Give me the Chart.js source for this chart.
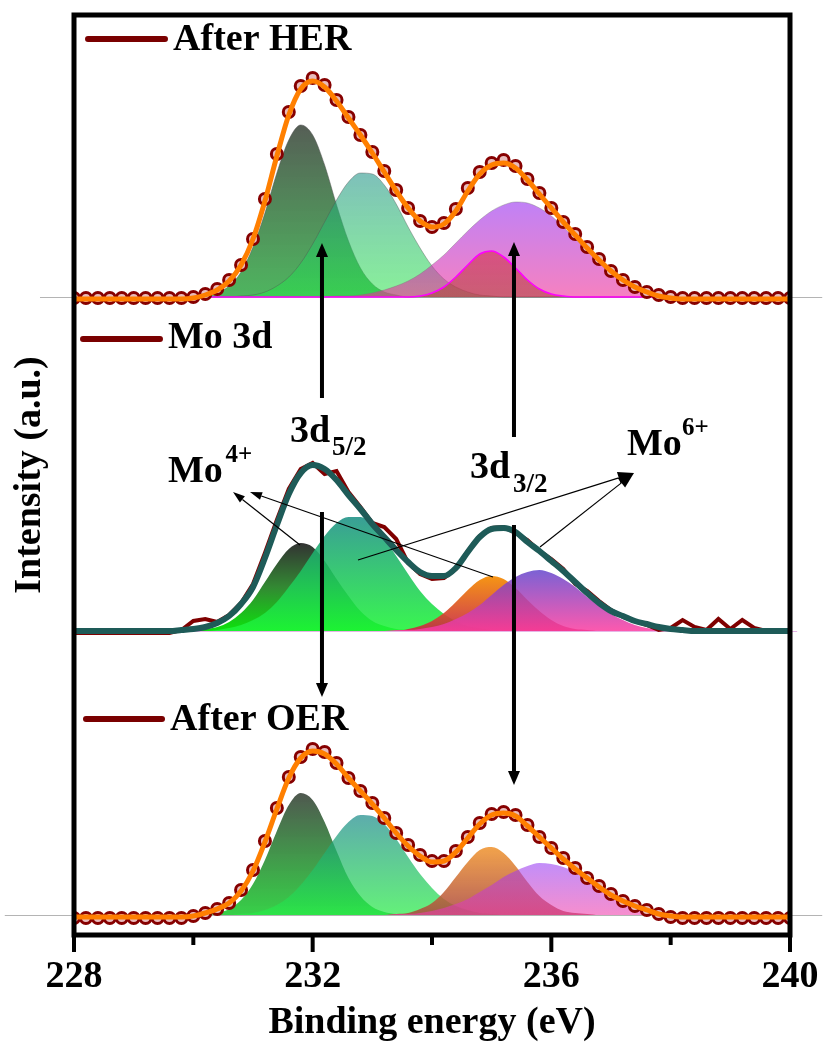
<!DOCTYPE html>
<html><head><meta charset="utf-8">
<script src="https://cdn.jsdelivr.net/npm/chart.js@4.4.1/dist/chart.umd.min.js"></script>
<style>html,body{margin:0;padding:0;background:#fff}canvas{display:block}</style>
</head><body>
<canvas id="c" width="824" height="1047"></canvas>
<script>
// ---------- data (binding energy grid, eV) ----------
const energy = [228,228.2,228.4,228.6,228.8,229,229.2,229.4,229.6,229.8,
230,230.2,230.4,230.6,230.8,231,231.2,231.4,231.6,231.8,
232,232.2,232.4,232.6,232.8,233,233.2,233.4,233.6,233.8,
234,234.2,234.4,234.6,234.8,235,235.2,235.4,235.6,235.8,
236,236.2,236.4,236.6,236.8,237,237.2,237.4,237.6,237.8,
238,238.2,238.4,238.6,238.8,239,239.2,239.4,239.6,239.8,240];
const xTicks = [228, 232, 236, 240];
const xMinorTicks = [230, 234, 238];

// After HER
const herData = [-1,-1,-1,-1,-1, -1,-1,-1,-1,-1,
0,3,8,17,32, 58,98,143,185,211,
219,212,197,180,162, 145,126,107,89,76,
70,74,88,109,125, 134,137,131,118,104,
89,75,63,50,38, 26,17,10,5,2,
0,-1,-1,-1,-1, -1,-1,-1,-1,-1, -1];
const herFit = [-2,-2,-2,-2,-2, -2,-2,-2,-2,-2,
-1,2,7,16,32, 58,96,141,182,208,
216,210,196,179,162, 144,125,106,89,76,
70,73,86,106,123, 132,134,129,117,103,
89,75,62,49,37, 26,17,10,5,1,
-1,-2,-2,-2,-2, -2,-2,-2,-2,-2, -2];
const herMo4a = [0,0,0,0,0, 0,0,0,0,0,
0,1,4,11,25, 50,84,124,157,172,
162,132,92,56,29, 13,5,2,0,0,
0,0,0,0,0, 0,0,0,0,0,
0,0,0,0,0, 0,0,0,0,0,
0,0,0,0,0, 0,0,0,0,0, 0];
const herMo4b = [0,0,0,0,0, 0,0,0,0,0,
0,0,0,0,1, 2,5,11,20,34,
53,75,97,115,124, 123,112,93,70,49,
31,18,10,5,2, 1,0,0,0,0,
0,0,0,0,0, 0,0,0,0,0,
0,0,0,0,0, 0,0,0,0,0, 0];
const herMo6a = [0,0,0,0,0, 0,0,0,0,0,
0,0,0,0,0, 0,0,0,0,0,
0,0,1,1,2, 4,7,11,16,23,
32,42,54,66,77, 86,92,95,94,89,
81,70,58,47,36, 26,19,11,6,3,
1,0,0,0,0, 0,0,0,0,0, 0];
const herMo6b = [0,0,0,0,0, 0,0,0,0,0,
0,0,0,0,0, 0,0,0,0,0,
0,0,0,0,0, 0,0,0,0,1,
4,10,20,32,43, 46,40,29,17,8,
3,1,0,0,0, 0,0,0,0,0,
0,0,0,0,0, 0,0,0,0,0, 0];

// Mo 3d (pristine)
const moData = [-2,-2,-2,-2,-2, -2,-2,-2,-2,1,
10,12,9,16,28, 47,78,111,142,162,
168,157,160,139,124, 108,104,92,68,57,
52,53,62,80,95, 103,104,98,91,80,
72,62,47,40,30, 21,14,10,6,1,
3,11,4,1,12, 2,11,3,0,0, 0];
const moFit = [0,0,0,0,0, 0,0,0,0,1,
2,4,8,15,27, 44,73,106,137,158,
166,162,151,136,122, 107,94,81,69,59,
55,55,63,79,94, 102,103,99,89,80,
70,60,49,38,28, 20,15,10,7,4,
2,1,0,0,0, 0,0,0,0,0, 0];
const moMo4a = [0,0,0,0,0, 0,0,0,0,0,
0,2,4,9,18, 31,49,67,82,88,
84,70,52,35,20, 10,5,2,1,0,
0,0,0,0,0, 0,0,0,0,0,
0,0,0,0,0, 0,0,0,0,0,
0,0,0,0,0, 0,0,0,0,0, 0];
const moMo4b = [0,0,0,0,0, 0,0,0,0,0,
0,0,1,3,6, 11,18,29,44,60,
78,95,108,114,114, 106,92,75,57,40,
27,17,10,5,3, 1,0,0,0,0,
0,0,0,0,0, 0,0,0,0,0,
0,0,0,0,0, 0,0,0,0,0, 0];
const moMo6a = [0,0,0,0,0, 0,0,0,0,0,
0,0,0,0,0, 0,0,0,0,0,
0,0,0,0,0, 0,0,0,2,5,
10,18,29,41,51, 55,52,43,31,20,
11,5,2,1,0, 0,0,0,0,0,
0,0,0,0,0, 0,0,0,0,0, 0];
const moMo6b = [0,0,0,0,0, 0,0,0,0,0,
0,0,0,0,0, 0,0,0,0,0,
0,0,0,0,0, 0,0,1,1,2,
4,7,12,18,26, 36,46,54,59,61,
58,52,44,34,25, 17,11,6,3,2,
1,0,0,0,0, 0,0,0,0,0, 0];

// After OER
const oerData = [-3,-3,-3,-3,-3, -3,-3,-3,-3,-3,
-1,2,6,12,25, 45,74,107,138,158,
166,163,152,137,124, 112,97,82,70,60,
54,54,64,78,92, 101,103,100,90,78,
67,57,47,37,29, 21,14,9,5,1,
-2,-3,-3,-3,-3, -3,-3,-3,-3,-3, -3];
const oerFit = [-2,-2,-2,-2,-2, -2,-2,-2,-2,-2,
-1,2,6,12,24, 44,73,106,137,157,
164,161,151,137,124, 111,97,82,69,59,
53,54,63,77,91, 100,102,99,89,78,
67,56,46,37,28, 20,14,9,5,1,
-1,-2,-2,-2,-2, -2,-2,-2,-2,-2, -2];
const oerMo4a = [0,0,0,0,0, 0,0,0,0,0,
0,0,2,6,15, 31,55,84,110,122,
115,93,64,37,19, 8,3,1,0,0,
0,0,0,0,0, 0,0,0,0,0,
0,0,0,0,0, 0,0,0,0,0,
0,0,0,0,0, 0,0,0,0,0, 0];
const oerMo4b = [0,0,0,0,0, 0,0,0,0,0,
0,0,0,0,1, 2,5,10,18,30,
45,62,79,93,100, 99,91,76,58,41,
27,16,9,5,2, 1,0,0,0,0,
0,0,0,0,0, 0,0,0,0,0,
0,0,0,0,0, 0,0,0,0,0, 0];
const oerMo6a = [0,0,0,0,0, 0,0,0,0,0,
0,0,0,0,0, 0,0,0,0,0,
0,0,0,0,0, 0,0,1,2,6,
12,23,38,53,65, 68,62,49,33,19,
10,4,2,1,0, 0,0,0,0,0,
0,0,0,0,0, 0,0,0,0,0, 0];
const oerMo6b = [0,0,0,0,0, 0,0,0,0,0,
0,0,0,0,0, 0,0,0,0,0,
0,0,0,0,0, 0,0,1,1,2,
4,7,11,16,23, 30,38,44,49,52,
51,48,43,36,28, 21,15,10,6,4,
2,1,0,0,0, 0,0,0,0,0, 0];

// ---------- layout / styling ----------
const F = "'Liberation Serif','Times New Roman',serif";
const panels = [
  { name:'After HER', offset:638, dots:true, data:herData, fit:herFit, fitColor:'#ff7f00', fitWidth:5,
    comps:[herMo4a, herMo4b, herMo6a, herMo6b],
    colors:[
      [[0,'rgba(62,72,62,0.88)'],[1,'rgba(40,165,60,0.82)']],
      [[0,'rgba(40,150,140,0.6)'],[1,'rgba(40,228,70,0.55)']],
      [[0,'rgba(150,45,240,0.6)'],[1,'rgba(240,45,150,0.6)']],
      [[0,'rgba(215,40,60,0.55)'],[1,'rgba(160,60,40,0.5)']]],
    borders:['rgba(80,80,80,0.5)','rgba(80,80,80,0.4)','rgba(120,120,120,0.4)','#ff00ff'],
    borderWidths:[1,1,1,1.6] },
  { name:'Mo 3d', offset:304, dots:false, data:moData, fit:moFit, fitColor:'#1e5b58', fitWidth:6,
    comps:[moMo4a, moMo4b, moMo6a, moMo6b],
    colors:[
      [[0,'rgba(40,40,40,0.95)'],[0.5,'rgba(40,130,40,0.95)'],[1,'rgba(0,225,0,0.95)']],
      [[0,'rgba(30,145,135,0.88)'],[1,'rgba(30,245,55,0.88)']],
      [[0,'rgba(245,140,0,0.92)'],[1,'rgba(200,40,70,0.92)']],
      [[0,'rgba(100,70,205,0.85)'],[1,'rgba(252,60,160,0.85)']]],
    borders:['rgba(0,0,0,0)','rgba(0,0,0,0)','rgba(0,0,0,0)','rgba(0,0,0,0)'],
    borderWidths:[0,0,0,0] },
  { name:'After OER', offset:20, dots:true, data:oerData, fit:oerFit, fitColor:'#ff7f00', fitWidth:5,
    comps:[oerMo4a, oerMo4b, oerMo6a, oerMo6b],
    colors:[
      [[0,'rgba(55,65,55,0.88)'],[1,'rgba(20,200,40,0.85)']],
      [[0,'rgba(30,140,140,0.72)'],[1,'rgba(40,235,70,0.72)']],
      [[0,'rgba(240,150,50,0.88)'],[1,'rgba(170,70,60,0.85)']],
      [[0,'rgba(150,60,245,0.58)'],[1,'rgba(240,60,170,0.58)']]],
    borders:['rgba(0,0,0,0)','rgba(0,0,0,0)','rgba(0,0,0,0)','rgba(0,0,0,0)'],
    borderWidths:[0,0,0,0] }
];

// annotations in data coordinates (eV, intensity)
const legendItems = [
  { text:'After HER', e1:228.235, e2:229.525, lv:896, te:229.66, tv:885 },
  { text:'Mo 3d',     e1:228.151, e2:229.441, lv:596, te:229.575, tv:587 },
  { text:'After OER', e1:228.201, e2:229.475, lv:216, te:229.61, tv:205 }
];
const textLabels = [
  { t:'3d',  e:231.62,  v:493, size:38 },
  { t:'5/2', e:232.324, v:480, size:27 },
  { t:'3d',  e:234.637, v:457, size:38 },
  { t:'3/2', e:235.357, v:443, size:27 },
  { t:'Mo',  e:229.575, v:453, size:38 },
  { t:'4+',  e:230.54,  v:473, size:25 },
  { t:'Mo',  e:237.268, v:480, size:38 },
  { t:'6+',  e:238.19,  v:500, size:25 }
];
const thickArrows = [
  { e:232.156, from:537, to:692 },
  { e:235.374, from:498, to:693 },
  { e:232.156, from:423, to:238 },
  { e:235.374, from:410, to:150 }
];
const thinArrows = [
  { from:[231.788,390], to:[230.665,443], hl:12, hw:8 },
  { from:[235.022,358], to:[230.95,443],  hl:12, hw:8 },
  { from:[232.76,375],  to:[237.385,462], hl:16, hw:12 },
  { from:[235.81,388],  to:[237.385,462], hl:16, hw:12 }
];
const baseLines = [
  { v:638, e1:227.43, e2:240.54, color:'#b4b4b4' },
  { v:304, e1:228.0,  e2:240.12, color:'#e6b4e6' },
  { v:20,  e1:226.84, e2:240.54, color:'#b4b4b4' }
];

function arrow(ctx, x1, y1, x2, y2, lw, hl, hw) {
  const a = Math.atan2(y2 - y1, x2 - x1);
  const bx = x2 - hl * Math.cos(a), by = y2 - hl * Math.sin(a);
  ctx.lineWidth = lw;
  ctx.beginPath(); ctx.moveTo(x1, y1); ctx.lineTo(bx, by); ctx.stroke();
  ctx.beginPath(); ctx.moveTo(x2, y2);
  ctx.lineTo(bx + hw / 2 * Math.sin(a), by - hw / 2 * Math.cos(a));
  ctx.lineTo(bx - hw / 2 * Math.sin(a), by + hw / 2 * Math.cos(a));
  ctx.closePath(); ctx.fill();
}

const decor = {
  id: 'decor',
  beforeDatasetsDraw(chart) {
    const ctx = chart.ctx, X = chart.scales.x, Y = chart.scales.y;
    ctx.save();
    ctx.lineWidth = 1.2;
    baseLines.forEach(b => {
      const y = Math.round(Y.getPixelForValue(b.v)) + 0.5;
      ctx.strokeStyle = b.color;
      ctx.beginPath(); ctx.moveTo(X.getPixelForValue(b.e1), y); ctx.lineTo(X.getPixelForValue(b.e2), y); ctx.stroke();
    });
    ctx.restore();
  },
  afterDatasetsDraw(chart) {
    const ctx = chart.ctx, X = chart.scales.x, Y = chart.scales.y, a = chart.chartArea;
    ctx.save();
    // frame
    ctx.strokeStyle = '#000'; ctx.lineWidth = 5; ctx.lineJoin = 'miter';
    ctx.strokeRect(a.left, a.top, a.right - a.left, a.bottom - a.top);
    // ticks (outward, below the axis)
    ctx.lineWidth = 4;
    xTicks.forEach(t => { const x = X.getPixelForValue(t); ctx.beginPath(); ctx.moveTo(x, a.bottom); ctx.lineTo(x, a.bottom + 17); ctx.stroke(); });
    xMinorTicks.forEach(t => { const x = X.getPixelForValue(t); ctx.beginPath(); ctx.moveTo(x, a.bottom); ctx.lineTo(x, a.bottom + 10); ctx.stroke(); });
    // legend-like labels
    legendItems.forEach(l => {
      ctx.strokeStyle = '#7a0000'; ctx.lineWidth = 6; ctx.lineCap = 'round';
      const ly = Y.getPixelForValue(l.lv);
      ctx.beginPath(); ctx.moveTo(X.getPixelForValue(l.e1), ly); ctx.lineTo(X.getPixelForValue(l.e2), ly); ctx.stroke();
      ctx.lineCap = 'butt';
      ctx.fillStyle = '#000'; ctx.font = 'bold 38px ' + F; ctx.textBaseline = 'alphabetic'; ctx.textAlign = 'left';
      ctx.fillText(l.text, X.getPixelForValue(l.te), Y.getPixelForValue(l.tv));
    });
    // thick vertical arrows
    ctx.strokeStyle = '#000'; ctx.fillStyle = '#000';
    thickArrows.forEach(r => {
      const x = X.getPixelForValue(r.e);
      arrow(ctx, x, Y.getPixelForValue(r.from), x, Y.getPixelForValue(r.to), 4, 14, 12);
    });
    // thin arrows
    thinArrows.forEach(r => {
      arrow(ctx, X.getPixelForValue(r.from[0]), Y.getPixelForValue(r.from[1]),
                 X.getPixelForValue(r.to[0]), Y.getPixelForValue(r.to[1]), 1.2, r.hl, r.hw);
    });
    // text labels
    ctx.textAlign = 'left'; ctx.textBaseline = 'alphabetic'; ctx.fillStyle = '#000';
    textLabels.forEach(l => {
      ctx.font = 'bold ' + l.size + 'px ' + F;
      ctx.fillText(l.t, X.getPixelForValue(l.e), Y.getPixelForValue(l.v));
    });
    ctx.restore();
  }
};

function compFill(panel, k) {
  return (context) => {
    const chart = context.chart, area = chart.chartArea, stops = panel.colors[k];
    if (!area || !chart.scales.y) return stops[stops.length - 1][1];
    const Y = chart.scales.y;
    const peak = Math.max(...panel.comps[k]);
    const g = chart.ctx.createLinearGradient(0, Y.getPixelForValue(panel.offset + peak), 0, Y.getPixelForValue(panel.offset));
    stops.forEach(s => g.addColorStop(s[0], s[1]));
    return g;
  };
}

const datasets = [];
panels.forEach(p => {
  const pts = vals => energy.map((e, i) => ({ x: e, y: vals[i] + p.offset }));
  datasets.push({ label: p.name + ' fit', data: pts(p.fit), borderColor: p.fitColor, borderWidth: p.fitWidth,
    pointRadius: 0, cubicInterpolationMode: 'monotone', fill: false, order: 0 });
  if (p.dots) {
    datasets.push({ label: p.name, data: pts(p.data), showLine: false, pointRadius: 5.5,
      pointBackgroundColor: '#e8bcbc', pointBorderColor: '#860000', pointBorderWidth: 3, fill: false, order: 1 });
  } else {
    datasets.push({ label: p.name, data: pts(p.data), borderColor: '#7f0000', borderWidth: 4,
      pointRadius: 0, fill: false, order: 1 });
  }
  p.comps.forEach((c, k) => {
    datasets.push({ label: p.name + ' peak ' + (k + 1), data: pts(c), fill: { value: p.offset },
      backgroundColor: compFill(p, k), borderColor: p.borders[k], borderWidth: p.borderWidths[k],
      pointRadius: 0, cubicInterpolationMode: 'monotone', order: 10 - k });
  });
});

new Chart(document.getElementById('c'), {
  type: 'line',
  data: { datasets },
  options: {
    responsive: false, animation: false, devicePixelRatio: 1, events: [],
    layout: { padding: { left: 0, right: 34, top: 15, bottom: 0 } },
    plugins: { legend: { display: false }, tooltip: { enabled: false } },
    scales: {
      x: { type: 'linear', min: 228, max: 240,
        afterFit: s => { s.height = 112; s.paddingLeft = 0; s.paddingRight = 0; },
        grid: { display: false, drawTicks: false }, border: { display: false },
        ticks: { stepSize: 4, autoSkip: false, maxRotation: 0, padding: 19, color: '#000',
          font: { family: F, size: 38, weight: 'bold' } },
        title: { display: true, text: 'Binding energy (eV)', color: '#000', padding: { top: 0, bottom: 1 },
          font: { family: F, size: 38, weight: 'bold' } } },
      y: { type: 'linear', min: 0, max: 920,
        afterFit: s => { s.width = 74; s.paddingTop = 0; s.paddingBottom = 0; },
        grid: { display: false, drawTicks: false }, border: { display: false },
        ticks: { display: false },
        title: { display: true, text: 'Intensity (a.u.)', color: '#000', padding: { top: 7, bottom: 0 },
          font: { family: F, size: 38, weight: 'bold' } } }
    }
  },
  plugins: [decor]
});
</script>
</body></html>
